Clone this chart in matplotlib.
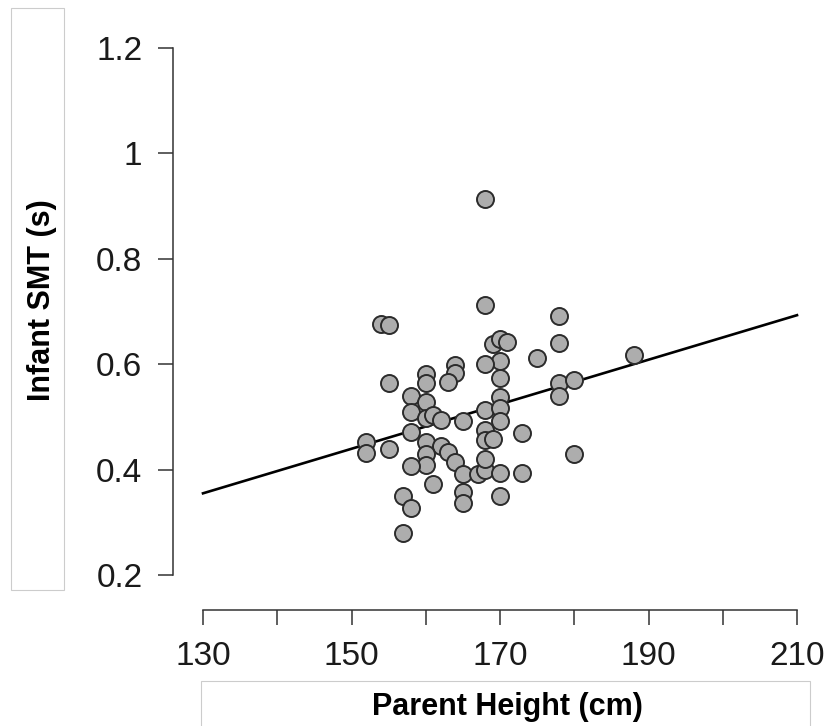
import numpy as np
import matplotlib
matplotlib.use('Agg')
import matplotlib.pyplot as plt
from matplotlib.patches import Rectangle

plt.rcParams['font.family'] = ['Liberation Sans', 'DejaVu Sans']

# Data
parent_height = [168, 168, 154, 155, 178, 178, 169, 170, 171, 175,
                 170, 168, 164, 164, 163, 155, 160, 160, 170, 158,
                 160, 170, 178, 180, 178, 188, 158, 160, 161, 162,
                 165, 168, 170, 170, 158, 152, 152, 155, 160, 162,
                 163, 160, 160, 158, 164, 165, 167, 168, 168, 168,
                 168, 169, 170, 173, 173, 161, 157, 158, 157, 165,
                 165, 170, 180]
infant_smt = [0.913, 0.712, 0.676, 0.674, 0.692, 0.640, 0.638, 0.648, 0.642, 0.611,
              0.607, 0.600, 0.598, 0.584, 0.566, 0.565, 0.582, 0.565, 0.573, 0.540,
              0.529, 0.538, 0.565, 0.570, 0.540, 0.617, 0.510, 0.498, 0.504, 0.494,
              0.493, 0.513, 0.517, 0.493, 0.472, 0.453, 0.431, 0.439, 0.452, 0.445,
              0.434, 0.429, 0.409, 0.406, 0.415, 0.392, 0.392, 0.399, 0.421, 0.476,
              0.457, 0.458, 0.394, 0.393, 0.470, 0.373, 0.350, 0.328, 0.280, 0.357,
              0.336, 0.349, 0.429]

# regression line end points
fit_x = [130, 210]
fit_y = [0.355, 0.693]

x_ticks = [130, 140, 150, 160, 170, 180, 190, 200, 210]
x_labels = ['130', '', '150', '', '170', '', '190', '', '210']
y_ticks = [0.2, 0.4, 0.6, 0.8, 1.0, 1.2]
y_labels = ['0.2', '0.4', '0.6', '0.8', '1', '1.2']

W, H = 827, 726
fig = plt.figure(figsize=(W / 100, H / 100), dpi=100)

# axes placed in pixels so the R-style detached axes line up
left, right, top, bottom = 173, 810, 40, 610
ax = fig.add_axes([left / W, 1 - bottom / H, (right - left) / W, (bottom - top) / H])

px_per_cm = (797 - 203) / 80
px_per_unit = (575 - 48) / 1.0
ax.set_xlim(130 - (203 - left) / px_per_cm, 130 + (right - 203) / px_per_cm)
ax.set_ylim(0.2 - (bottom - 575) / px_per_unit, 0.2 + (575 - top) / px_per_unit)

ax.plot(fit_x, fit_y, color='black', linewidth=1.9, zorder=2)
ax.scatter(parent_height, infant_smt, s=150, facecolor='#adadad',
           edgecolor='#2b2b2b', linewidths=1.4, zorder=3)

for side in ['top', 'right']:
    ax.spines[side].set_visible(False)
for side in ['left', 'bottom']:
    ax.spines[side].set_color('#333333')
    ax.spines[side].set_linewidth(1.1)
ax.spines['left'].set_bounds(0.2, 1.2)
ax.spines['bottom'].set_bounds(130, 210)

ax.set_xticks(x_ticks)
ax.set_xticklabels(x_labels)
ax.set_yticks(y_ticks)
ax.set_yticklabels(y_labels)
ax.tick_params(axis='both', direction='out', length=11, width=1.1,
               color='#333333', labelsize=24, pad=11, labelcolor='#1a1a1a')

# axis titles
fig.text(42 / W, 1 - 300 / H, 'Infant SMT (s)', rotation=90, fontsize=22,
         fontweight='bold', ha='center', va='center')
fig.text(507 / W, 1 - 715 / H, 'Parent Height (cm)', fontsize=22,
         fontweight='bold', ha='center', va='baseline')

# faint frames around the axis titles
fig.patches.append(Rectangle((11 / W, 1 - 590 / H), 53 / W, 582 / H,
                             transform=fig.transFigure, fill=False,
                             edgecolor='#cccccc', linewidth=0.8))
fig.patches.append(Rectangle((201 / W, -0.01), 609 / W, (726 - 681) / H + 0.01,
                             transform=fig.transFigure, fill=False,
                             edgecolor='#cccccc', linewidth=0.8))

fig.savefig('out.png', dpi=100)
